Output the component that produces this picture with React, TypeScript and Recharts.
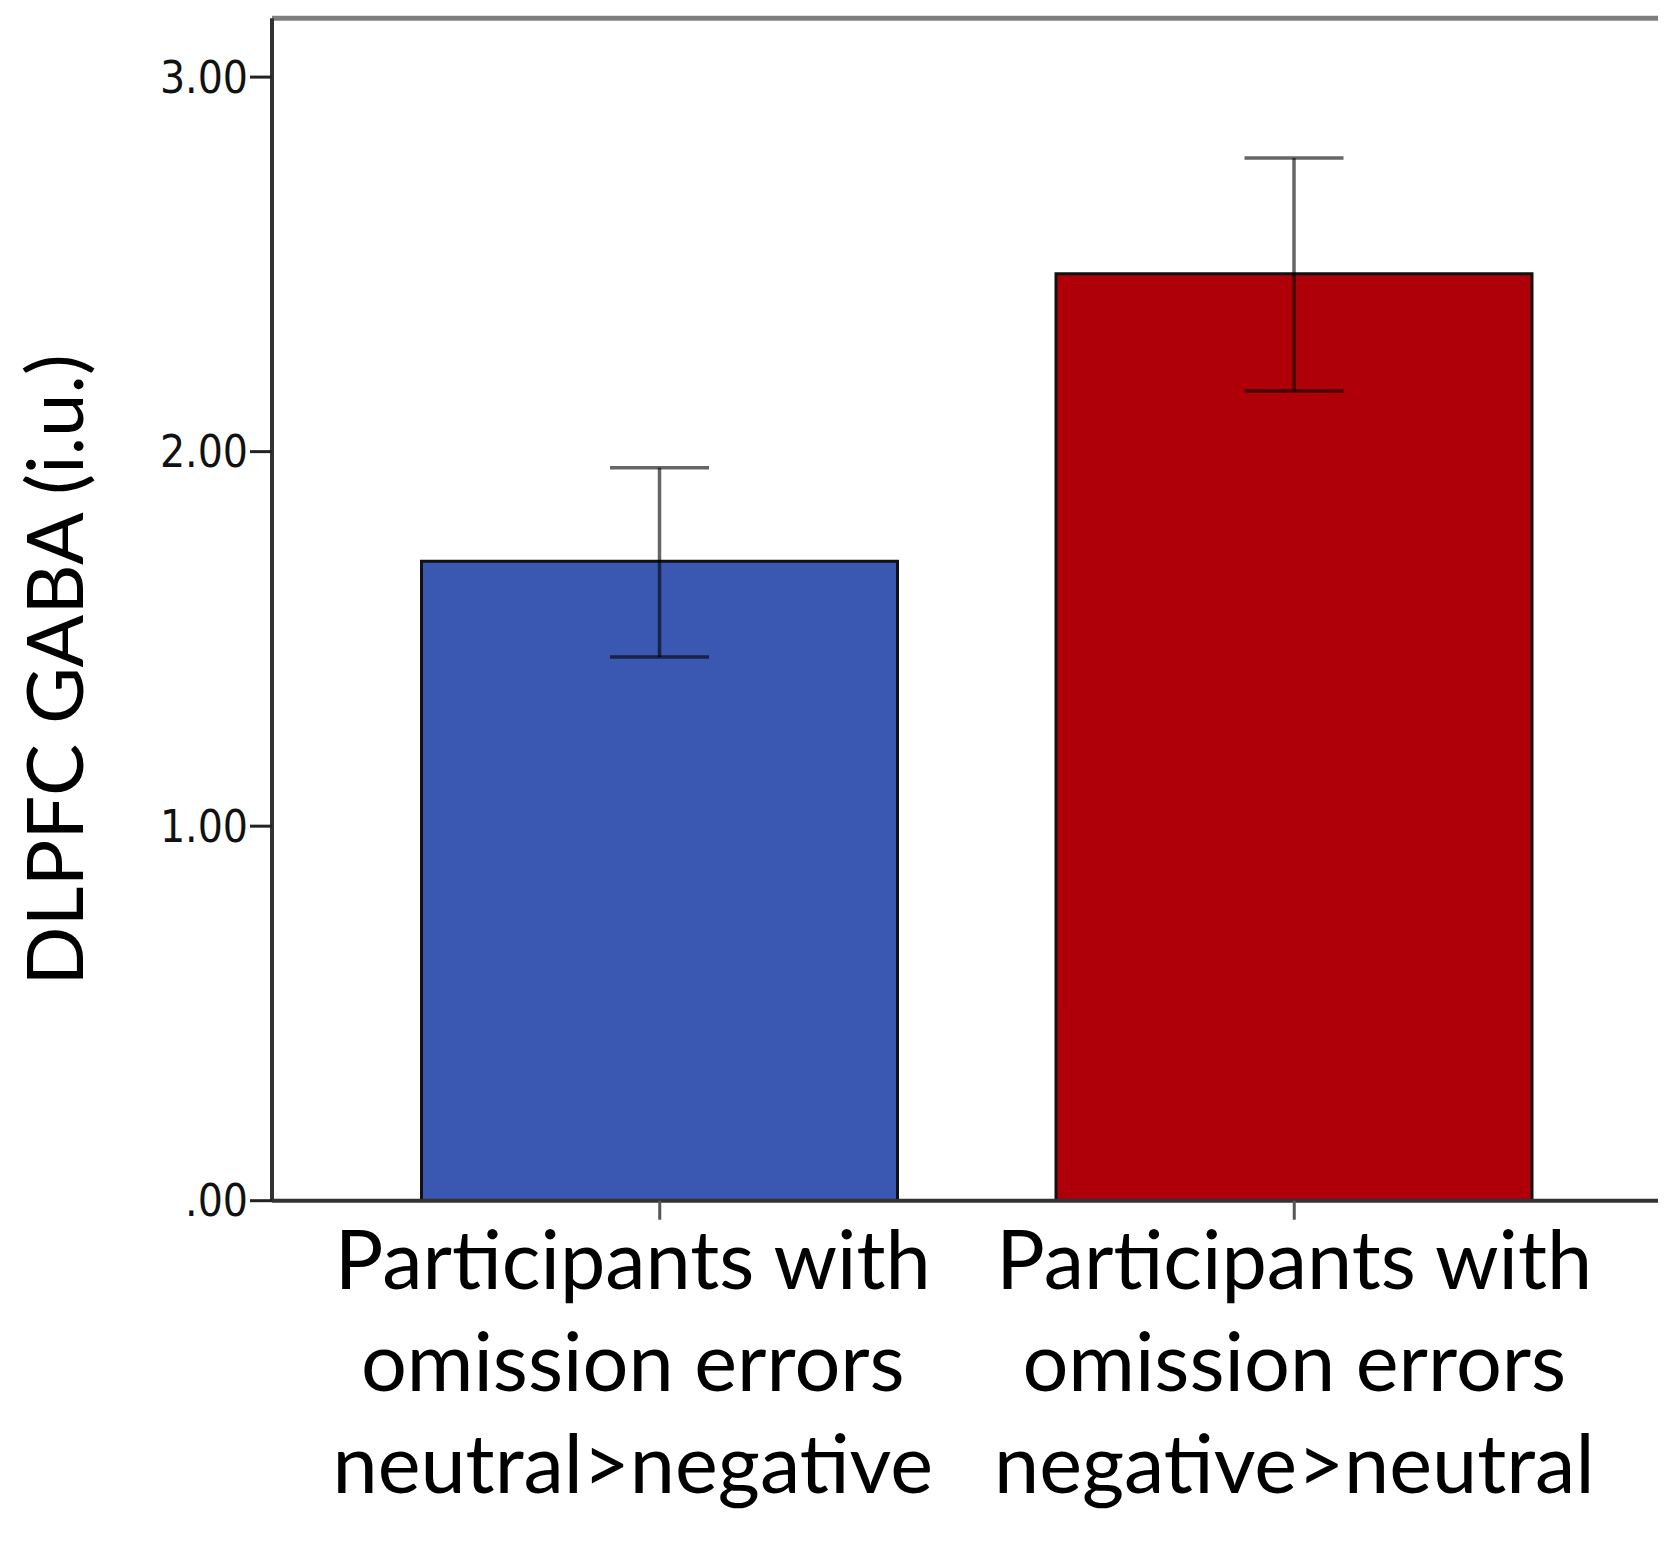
import React from 'react';
import { BarChart, Bar, XAxis, YAxis, ErrorBar, Cell, ReferenceLine } from 'recharts';

const categories = [
  ['Participants with', 'omission errors', 'neutral>negative'],
  ['Participants with', 'omission errors', 'negative>neutral'],
];
const means = [1.707, 2.475];
const lowerBounds = [1.452, 2.162];
const upperBounds = [1.957, 2.784];
const barColors = ['#3A57B1', '#AF000A'];
const yTicks = [0, 1, 2, 3];
const yMax = 3.157;
const yTitle = 'DLPFC GABA (i.u.)';

const data = categories.map((lines, i) => ({
  name: String(i),
  lines,
  value: means[i],
  err: [means[i] - lowerBounds[i], upperBounds[i] - means[i]],
}));

const fmt = (v: number) => (v === 0 ? '.00' : v.toFixed(2));

const XTick = (props: any) => {
  const { x, y, payload, index } = props;
  const lines = categories[Number(payload.value)] || [];
  const shift = index === 0 ? -27 : 0;
  return (
    <g transform={`translate(${x + shift},${y})`}>
      {lines.map((l, i) => (
        <text
          key={i}
          x={0}
          y={67 + i * 102}
          textAnchor="middle"
          fontFamily="Lato, 'Open Sans', sans-serif"
          fontSize={81}
          fill="#000"
        >
          {l}
        </text>
      ))}
    </g>
  );
};

const YTitle = () => (
  <text
    transform="translate(83,670) rotate(-90)"
    textAnchor="middle"
    fontFamily="Lato, 'Open Sans', sans-serif"
    fontSize={78}
    fill="#000"
  >
    {yTitle}
  </text>
);

export default function App() {
  return (
    <div style={{ width: 1666, height: 1542, marginLeft: -8, marginTop: -8, overflow: 'visible' }}>
      <BarChart
        width={1666}
        height={1542}
        data={data}
        margin={{ top: 18.3, right: 0, bottom: 0, left: 192 }}
        barSize={476}
      >
        <XAxis
          dataKey="name"
          padding={{ left: 70.5, right: 54.5 }}
          height={341.3}
          axisLine={{ stroke: '#333', strokeWidth: 4 }}
          tickLine={{ stroke: '#555', strokeWidth: 3 }}
          tickSize={19}
          tick={<XTick />}
          interval={0}
        />
        <YAxis
          width={80}
          domain={[0, yMax]}
          ticks={yTicks}
          tickFormatter={fmt}
          allowDataOverflow
          axisLine={{ stroke: '#333', strokeWidth: 4 }}
          tickLine={{ stroke: '#222', strokeWidth: 3 }}
          tickSize={22}
          tickMargin={2}
          tick={{ fontFamily: "'DejaVu Sans Condensed', 'DejaVu Sans', sans-serif", fontSize: 44, fill: '#111' }}
          label={<YTitle />}
        />
        <ReferenceLine y={yMax} stroke="#7f7f7f" strokeWidth={5} ifOverflow="visible" />
        <Bar dataKey="value" isAnimationActive={false} stroke="#111" strokeWidth={3}>
          {data.map((d, i) => (
            <Cell key={i} fill={barColors[i]} />
          ))}
          <ErrorBar
            dataKey="err"
            width={49.5}
            stroke="rgba(0,0,0,0.6)"
            strokeWidth={3.5}
            direction="y"
            isAnimationActive={false}
          />
        </Bar>
      </BarChart>
    </div>
  );
}
